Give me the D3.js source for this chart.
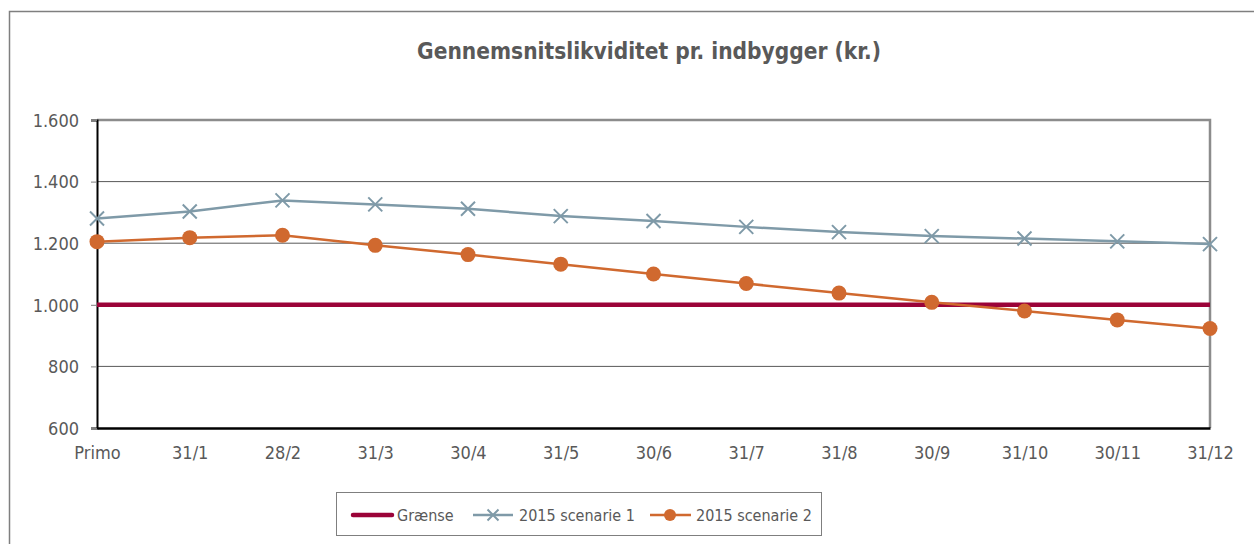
<!DOCTYPE html>
<html>
<head>
  <meta charset="utf-8">
  <title>Gennemsnitslikviditet</title>
  <script src="https://cdn.jsdelivr.net/npm/d3@7"></script>
  <style>
    body { margin: 0; background: #fff; }
    svg text { font-family: "DejaVu Sans Condensed", "Liberation Sans Narrow", "Liberation Sans", sans-serif; fill: #595959; }
  </style>
</head>
<body>
  <div id="chart"></div>
  <script>
    const categories = ['Primo', '31/1', '28/2', '31/3', '30/4', '31/5', '30/6', '31/7', '31/8', '30/9', '31/10', '30/11', '31/12'];
    const graense = [1000, 1000, 1000, 1000, 1000, 1000, 1000, 1000, 1000, 1000, 1000, 1000, 1000];
    const scenarie1 = [1280, 1303, 1339, 1326, 1312, 1288, 1272, 1253, 1236, 1223, 1215, 1206, 1197];
    const scenarie2 = [1205, 1218, 1226, 1193, 1163, 1132, 1100, 1069, 1038, 1008, 980, 951, 923];
    const yTicks = [600, 800, 1000, 1200, 1400, 1600];

    const W = 1254, H = 544;
    const margin = { left: 97, right: 44, top: 120, bottom: 116 };

    const svg = d3.select('#chart').append('svg')
      .attr('width', W)
      .attr('height', H);

    // outer chart frame (runs off the right and bottom edges)
    svg.append('rect')
      .attr('x', 9.5).attr('y', 11.5)
      .attr('width', 1260).attr('height', 560)
      .attr('fill', 'none').attr('stroke', '#7f7f7f').attr('stroke-width', 1.5);

    svg.append('text')
      .attr('x', 649).attr('y', 59)
      .attr('text-anchor', 'middle')
      .style('font-size', '22.5px')
      .style('font-weight', 'bold')
      .text('Gennemsnitslikviditet pr. indbygger (kr.)');

    const x = d3.scalePoint()
      .domain(categories)
      .range([margin.left, W - margin.right]);

    const y = d3.scaleLinear()
      .domain([600, 1600])
      .range([H - margin.bottom, margin.top]);

    // gridlines
    svg.append('g').selectAll('line')
      .data(yTicks.slice(1, -1))
      .enter().append('line')
      .attr('x1', margin.left).attr('x2', W - margin.right)
      .attr('y1', d => y(d)).attr('y2', d => y(d))
      .attr('stroke', '#595959').attr('stroke-width', 1);

    // top/right frame of plot
    svg.append('path')
      .attr('d', `M${margin.left},${y(1600)}H${W - margin.right}V${y(600)}`)
      .attr('fill', 'none').attr('stroke', '#8c8c8c').attr('stroke-width', 2.5);

    // y axis
    const yAxis = svg.append('g')
      .attr('transform', `translate(${margin.left},0)`)
      .call(d3.axisLeft(y).tickValues(yTicks).tickSize(6).tickPadding(12)
        .tickFormat(d => d3.format(',')(d).replace(',', '.')));
    yAxis.select('.domain').attr('stroke', '#000').attr('stroke-width', 2);
    yAxis.selectAll('.tick line').attr('stroke', '#7f7f7f');
    yAxis.selectAll('text').style('font-size', '18px').attr('dy', '0.35em');

    // x axis
    const xAxis = svg.append('g')
      .attr('transform', `translate(0,${y(600)})`)
      .call(d3.axisBottom(x).tickSize(0).tickPadding(18));
    xAxis.select('.domain').attr('stroke', '#000').attr('stroke-width', 2.5);
    xAxis.selectAll('text').style('font-size', '18px');

    const line = d3.line()
      .x((d, i) => x(categories[i]))
      .y(d => y(d));

    svg.append('path')
      .datum(graense)
      .attr('d', line)
      .attr('fill', 'none').attr('stroke', '#9b0338').attr('stroke-width', 4.5);

    svg.append('path')
      .datum(scenarie1)
      .attr('d', line)
      .attr('fill', 'none').attr('stroke', '#7f9aa8').attr('stroke-width', 2.5);

    const cross = (cx, cy, r) => `M${cx - r},${cy - r}L${cx + r},${cy + r}M${cx - r},${cy + r}L${cx + r},${cy - r}`;

    svg.append('g').selectAll('path')
      .data(scenarie1)
      .enter().append('path')
      .attr('d', (d, i) => cross(x(categories[i]), y(d), 7))
      .attr('stroke', '#7f9aa8').attr('stroke-width', 2);

    svg.append('path')
      .datum(scenarie2)
      .attr('d', line)
      .attr('fill', 'none').attr('stroke', '#d0692f').attr('stroke-width', 2.5);

    svg.append('g').selectAll('circle')
      .data(scenarie2)
      .enter().append('circle')
      .attr('cx', (d, i) => x(categories[i]))
      .attr('cy', d => y(d))
      .attr('r', 7.5)
      .attr('fill', '#d0692f');

    // legend
    const lg = svg.append('g');
    lg.append('rect')
      .attr('x', 336.5).attr('y', 492.5)
      .attr('width', 485).attr('height', 43)
      .attr('fill', '#fff').attr('stroke', '#7f7f7f').attr('stroke-width', 1);

    const ly = 515;
    lg.append('line')
      .attr('x1', 353).attr('x2', 392).attr('y1', ly).attr('y2', ly)
      .attr('stroke', '#9b0338').attr('stroke-width', 4.5).attr('stroke-linecap', 'round');
    lg.append('text').attr('x', 397).attr('y', ly).attr('dy', '0.35em')
      .style('font-size', '16px').text('Grænse');

    lg.append('line')
      .attr('x1', 473).attr('x2', 513).attr('y1', ly).attr('y2', ly)
      .attr('stroke', '#7f9aa8').attr('stroke-width', 2.5);
    lg.append('path').attr('d', cross(493, ly, 5.5))
      .attr('stroke', '#7f9aa8').attr('stroke-width', 2);
    lg.append('text').attr('x', 519).attr('y', ly).attr('dy', '0.35em')
      .style('font-size', '16px').text('2015 scenarie 1');

    lg.append('line')
      .attr('x1', 650).attr('x2', 691).attr('y1', ly).attr('y2', ly)
      .attr('stroke', '#d0692f').attr('stroke-width', 2.5);
    lg.append('circle').attr('cx', 670).attr('cy', ly).attr('r', 6)
      .attr('fill', '#d0692f');
    lg.append('text').attr('x', 696).attr('y', ly).attr('dy', '0.35em')
      .style('font-size', '16px').text('2015 scenarie 2');
  </script>
</body>
</html>
